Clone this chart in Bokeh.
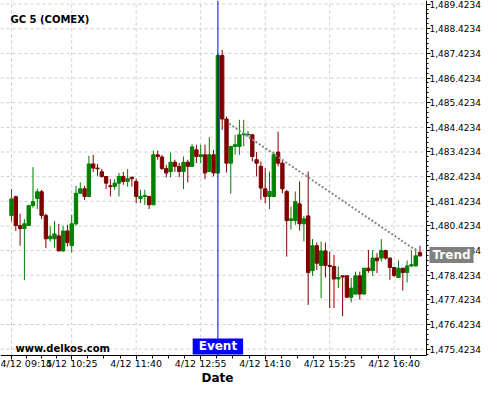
from bokeh.plotting import figure
from bokeh.models import FixedTicker, NumeralTickFormatter, Label, Range1d
from bokeh.embed import file_html
from bokeh.resources import INLINE

# ---------------- data ----------------
tick_index = [0, 14, 29, 44, 59, 74, 89]
tick_labels = ["4/12 09:15", "4/12 10:25", "4/12 11:40", "4/12 12:55",
               "4/12 14:10", "4/12 15:25", "4/12 16:40"]
price_ticks = [1475.4234, 1476.4234, 1477.4234, 1478.4234, 1479.4234,
               1480.4234, 1481.4234, 1482.4234, 1483.4234, 1484.4234,
               1485.4234, 1486.4234, 1487.4234, 1488.4234, 1489.4234]

opens = [1480.85, 1481.61, 1480.44, 1480.32, 1480.44, 1481.25, 1481.54, 1481.81, 1480.85, 1479.90,
         1479.90, 1480.02, 1479.41, 1480.22, 1479.63, 1480.51, 1481.75, 1481.93, 1481.62, 1482.94,
         1482.77, 1482.62, 1482.43, 1482.05, 1482.02, 1482.16, 1482.43, 1482.23, 1482.40, 1482.23,
         1481.54, 1481.62, 1481.62, 1481.28, 1483.31, 1483.22, 1482.75, 1482.63, 1483.01, 1482.84,
         1482.63, 1483.01, 1482.84, 1483.51, 1483.24, 1483.31, 1482.63, 1483.31, 1482.57, 1487.34,
         1484.76, 1482.97, 1483.65, 1483.65, 1484.12, 1484.12, 1484.12, 1483.11, 1482.84, 1481.93,
         1481.62, 1481.62, 1483.42, 1482.97, 1481.82, 1480.64, 1480.64, 1481.32, 1480.51, 1480.83,
         1478.61, 1479.62, 1478.82, 1479.41, 1478.82, 1478.78, 1478.27, 1478.40, 1478.40, 1477.53,
         1477.66, 1478.40, 1477.66, 1478.71, 1478.61, 1479.12, 1479.12, 1479.43, 1479.12, 1478.74,
         1478.33, 1478.71, 1478.53, 1478.80, 1478.80, 1479.34]
highs = [1481.92, 1481.65, 1480.92, 1480.70, 1481.28, 1482.81, 1481.94, 1481.89, 1480.92, 1480.40,
         1480.63, 1480.51, 1480.43, 1480.47, 1480.87, 1482.05, 1482.19, 1482.05, 1483.27, 1483.31,
         1482.94, 1482.74, 1482.45, 1482.32, 1482.32, 1482.57, 1482.61, 1482.73, 1482.42, 1482.34,
         1481.89, 1481.89, 1481.65, 1483.48, 1483.48, 1483.31, 1482.90, 1483.40, 1483.11, 1482.98,
         1483.24, 1483.11, 1483.74, 1483.72, 1483.72, 1483.72, 1484.03, 1483.51, 1487.41, 1487.57,
         1484.86, 1483.67, 1484.12, 1484.73, 1484.73, 1484.28, 1484.16, 1483.42, 1483.04, 1482.77,
         1482.63, 1483.44, 1484.25, 1483.11, 1481.89, 1481.21, 1481.82, 1482.23, 1480.83, 1482.63,
         1479.89, 1479.75, 1479.79, 1479.75, 1479.38, 1479.25, 1478.78, 1478.42, 1478.42, 1478.31,
         1478.57, 1478.57, 1478.72, 1479.45, 1479.45, 1479.32, 1479.89, 1479.45, 1479.13, 1478.76,
         1479.02, 1478.72, 1479.02, 1479.43, 1479.52, 1479.62]
lows = [1480.60, 1480.22, 1479.62, 1478.22, 1480.43, 1481.16, 1481.11, 1480.70, 1479.52, 1479.79,
        1479.53, 1479.40, 1479.37, 1479.59, 1479.34, 1480.43, 1481.73, 1481.48, 1481.61, 1482.61,
        1482.46, 1482.38, 1481.92, 1481.62, 1481.89, 1481.62, 1482.09, 1482.02, 1482.02, 1481.35,
        1481.35, 1481.28, 1481.11, 1481.27, 1483.11, 1482.70, 1482.39, 1482.39, 1482.62, 1482.40,
        1481.92, 1482.19, 1482.82, 1482.97, 1482.97, 1482.32, 1482.62, 1482.43, 1482.54, 1484.32,
        1482.59, 1481.73, 1483.31, 1483.31, 1483.65, 1484.04, 1483.04, 1482.43, 1481.48, 1481.35,
        1481.11, 1481.61, 1482.84, 1481.75, 1479.18, 1480.27, 1480.47, 1480.24, 1479.79, 1477.22,
        1478.40, 1478.64, 1477.49, 1478.33, 1477.09, 1477.09, 1477.90, 1476.76, 1477.51, 1477.32,
        1477.63, 1477.43, 1477.63, 1478.52, 1478.40, 1478.51, 1478.98, 1479.05, 1478.24, 1478.36,
        1478.32, 1477.80, 1478.13, 1478.76, 1478.79, 1479.18]
closes = [1481.52, 1480.44, 1480.32, 1480.51, 1481.25, 1481.41, 1481.81, 1480.85, 1479.90, 1480.01,
          1480.10, 1479.41, 1480.22, 1479.75, 1480.51, 1481.75, 1481.93, 1481.62, 1482.94, 1482.77,
          1482.74, 1482.43, 1482.16, 1482.02, 1482.16, 1482.43, 1482.23, 1482.34, 1482.34, 1481.62,
          1481.62, 1481.66, 1481.28, 1483.31, 1483.24, 1482.75, 1482.57, 1483.01, 1482.84, 1482.63,
          1483.01, 1482.84, 1483.63, 1483.24, 1483.31, 1482.57, 1483.31, 1482.57, 1487.34, 1484.76,
          1482.97, 1483.65, 1483.72, 1484.12, 1484.16, 1484.15, 1483.24, 1482.97, 1481.96, 1481.62,
          1481.82, 1483.31, 1482.97, 1481.93, 1480.64, 1480.71, 1481.41, 1480.51, 1480.71, 1478.53,
          1479.62, 1478.91, 1479.41, 1478.82, 1478.78, 1478.27, 1478.33, 1478.35, 1477.53, 1477.90,
          1478.40, 1477.66, 1478.71, 1478.61, 1479.12, 1479.01, 1479.43, 1479.12, 1478.74, 1478.41,
          1478.71, 1478.53, 1478.80, 1478.85, 1479.21, 1479.21]

event_index = 48
trend_x = [50.6, 94.6]
trend_y = [1484.57, 1479.37]

# ---------------- figure ----------------
# The frame fills the whole canvas; both axes are pinned inside it (XA, YA).
X0, XA, X1 = -2.558, 96.51, 110.0
Y0, YA, Y1 = 1473.99, 1475.17, 1489.57
FONT = "DejaVu Sans"

p = figure(width=484, height=384, x_range=Range1d(X0, X1), y_range=Range1d(Y0, Y1),
           y_axis_location="right", x_axis_location="below",
           toolbar_location=None, output_backend="svg",
           min_border_left=0, min_border_right=0, min_border_top=0, min_border_bottom=0,
           outline_line_color=None, background_fill_color="white", border_fill_color="white")

# grid lines limited to the plotting area
GRID = dict(line_color="#cccccc", line_dash="3 3", line_width=1)
n = len(price_ticks)
p.segment(x0=[X0] * n, x1=[XA] * n, y0=price_ticks, y1=price_ticks, **GRID)
m = len(tick_index)
p.segment(x0=tick_index, x1=tick_index, y0=[YA] * m, y1=[Y1] * m, **GRID)
p.xgrid.grid_line_color = None
p.ygrid.grid_line_color = None

idx = list(range(len(opens)))
GREEN, RED = "#008000", "#800000"
colors = [GREEN if c >= o else RED for o, c in zip(opens, closes)]
tops = [max(o, c) for o, c in zip(opens, closes)]
bottoms = [min(o, c) for o, c in zip(opens, closes)]

p.segment(x0=idx, y0=highs, x1=idx, y1=lows, line_color=colors, line_width=1)
p.vbar(x=idx, width=0.78, top=tops, bottom=bottoms, fill_color=colors, line_color=colors, line_width=1)

p.line(trend_x, trend_y, line_color="#888888", line_width=2, line_dash="2 2")

# event marker
p.segment(x0=[event_index], x1=[event_index], y0=[YA], y1=[Y1], line_color="#0000ff", line_width=1)

# x axis (pinned at YA)
minor_x = []
for a, b in zip(tick_index[:-1], tick_index[1:]):
    minor_x += [a + (b - a) * k / 4 for k in (1, 2, 3)]
minor_x += [tick_index[-1] + 3.75]
p.xaxis.ticker = FixedTicker(ticks=tick_index, minor_ticks=minor_x)
p.xaxis.major_label_overrides = {t: l for t, l in zip(tick_index, tick_labels)}
p.xaxis.bounds = (X0, XA)
p.xaxis.fixed_location = YA

# y axis (pinned at XA)
minor_y = [price_ticks[0] - 0.2 + 0.2 * k for k in range(73)]
p.yaxis.ticker = FixedTicker(ticks=price_ticks, minor_ticks=minor_y)
p.yaxis.formatter = NumeralTickFormatter(format="0,0.0000")
p.yaxis.bounds = (YA, Y1)
p.yaxis.fixed_location = XA

for ax in (p.xaxis[0], p.yaxis[0]):
    ax.axis_line_color = "black"
    ax.major_tick_line_color = "black"
    ax.minor_tick_line_color = "black"
    ax.major_tick_out = 4
    ax.major_tick_in = 0
    ax.minor_tick_in = 0
    ax.major_label_text_font = FONT
    ax.major_label_text_color = "black"
p.xaxis.major_label_standoff = -1
p.yaxis.major_label_standoff = -1
p.xaxis.major_label_text_font_size = "9.5px"
p.yaxis.major_label_text_font_size = "9px"
p.xaxis.minor_tick_out = 3
p.yaxis.minor_tick_out = 2

# texts
p.add_layout(Label(x=X0, y=Y1, x_offset=10, y_offset=-19, text="GC 5 (COMEX)",
                   text_font=FONT, text_font_style="bold", text_font_size="10px",
                   text_color="black", text_baseline="alphabetic"))
p.add_layout(Label(x=X0, y=YA, x_offset=15, y_offset=7, text="www.delkos.com",
                   text_font=FONT, text_font_style="bold", text_font_size="10px",
                   text_color="black", text_baseline="alphabetic"))
p.add_layout(Label(x=event_index, y=YA, y_offset=1, text="Event", text_align="center",
                   text_baseline="bottom", text_font=FONT, text_font_style="bold",
                   text_font_size="12px", text_color="white",
                   background_fill_color="#0000ff", padding=dict(x=6, y=1)))
p.add_layout(Label(x=XA, y=trend_y[-1], x_offset=3, y_offset=-3, text="Trend", text_align="left",
                   text_baseline="middle", text_font=FONT, text_font_style="bold",
                   text_font_size="12px", text_color="white",
                   background_fill_color="#808080", padding=dict(x=3, y=1)))
p.add_layout(Label(x=(X0 + XA) / 2, y=Y0, x_offset=4, y_offset=7, text="Date",
                   text_align="center", text_baseline="alphabetic", text_font=FONT,
                   text_font_style="bold", text_font_size="12px", text_color="black"))

open("out.html", "w").write(file_html(p, INLINE))
